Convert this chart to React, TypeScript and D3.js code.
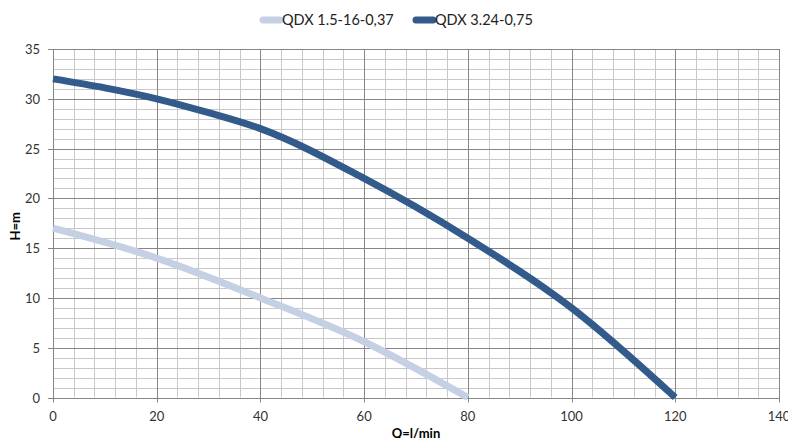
import React from "react";
import * as d3 from "d3";

const seriesNames = ["QDX 1.5-16-0,37", "QDX 3.24-0,75"];
const seriesColors = ["#c6d0e4", "#325b8c"];
const flowA = [0, 20, 40, 60, 80];
const headA = [17, 14, 10, 5.6, 0];
const flowB = [0, 10, 20, 30, 40, 60, 80, 100, 120];
const headB = [32, 31.1, 30, 28.6, 27, 22, 16, 9, 0];
const xTicks = [0, 20, 40, 60, 80, 100, 120, 140];
const yTicks = [0, 5, 10, 15, 20, 25, 30, 35];

const W = 788;
const H = 438;
const m = { left: 53, right: 779, top: 49, bottom: 397.5 };
const font = "Lato, 'Open Sans', sans-serif";

export default function App() {
  const x = d3.scaleLinear().domain([0, 140]).range([m.left, m.right]);
  const y = d3.scaleLinear().domain([0, 35]).range([m.bottom, m.top]);
  const line = d3
    .line<[number, number]>()
    .x((d) => x(d[0]))
    .y((d) => y(d[1]))
    .curve(d3.curveMonotoneX);
  const dataA: [number, number][] = flowA.map((f, i) => [f, headA[i]]);
  const dataB: [number, number][] = flowB.map((f, i) => [f, headB[i]]);
  const xMinor = d3.range(0, 141, 4).filter((v) => v % 20 !== 0);
  const yMinor = d3.range(0, 36, 1).filter((v) => v % 5 !== 0);
  const legendItems = [
    { name: seriesNames[0], color: seriesColors[0], x0: 260 },
    { name: seriesNames[1], color: seriesColors[1], x0: 413 },
  ];
  return (
    <svg
      width={W}
      height={H}
      style={{ position: "absolute", left: 0, top: 0, background: "#fff" }}
    >
      {xMinor.map((v) => (
        <line key={"xm" + v} x1={Math.round(x(v)) + 0.5} x2={Math.round(x(v)) + 0.5} y1={m.top} y2={m.bottom} stroke="#c8c8c8" strokeWidth={1} />
      ))}
      {yMinor.map((v) => (
        <line key={"ym" + v} x1={m.left} x2={m.right} y1={Math.round(y(v)) + 0.5} y2={Math.round(y(v)) + 0.5} stroke="#c8c8c8" strokeWidth={1} />
      ))}
      {xTicks.map((v) => (
        <line key={"xM" + v} x1={Math.round(x(v)) + 0.5} x2={Math.round(x(v)) + 0.5} y1={m.top} y2={m.bottom + 5} stroke="#868686" strokeWidth={1} />
      ))}
      {yTicks.map((v) => (
        <line key={"yM" + v} x1={m.left - 5} x2={m.right} y1={Math.round(y(v)) + 0.5} y2={Math.round(y(v)) + 0.5} stroke="#868686" strokeWidth={1} />
      ))}
      {yTicks.map((v) => (
        <text key={"yl" + v} x={40} y={y(v) + 5} textAnchor="end" fontFamily={font} fontSize={13} fill="#333">
          {v}
        </text>
      ))}
      {xTicks.map((v) => (
        <text key={"xl" + v} x={x(v)} y={421} textAnchor="middle" fontFamily={font} fontSize={13} fill="#333">
          {v}
        </text>
      ))}
      <path d={line(dataA) || ""} fill="none" stroke={seriesColors[0]} strokeWidth={7} strokeLinejoin="round" />
      <path d={line(dataB) || ""} fill="none" stroke={seriesColors[1]} strokeWidth={7} strokeLinejoin="round" />
      <text transform={`translate(20,${(m.top + m.bottom) / 2 + 3}) rotate(-90)`} textAnchor="middle" fontFamily={font} fontSize={13} fontWeight="bold" fill="#000">
        H=m
      </text>
      <text x={(m.left + m.right) / 2} y={438} textAnchor="middle" fontFamily={font} fontSize={13} fontWeight="bold" fill="#000">
        Q=l/min
      </text>
      {legendItems.map((it) => (
        <g key={it.name}>
          <line x1={it.x0 + 3} x2={it.x0 + 20} y1={20} y2={20} stroke={it.color} strokeWidth={7} strokeLinecap="round" />
          <text x={it.x0 + 22} y={25} fontFamily={font} fontSize={14.5} fill="#222">
            {it.name}
          </text>
        </g>
      ))}
    </svg>
  );
}
